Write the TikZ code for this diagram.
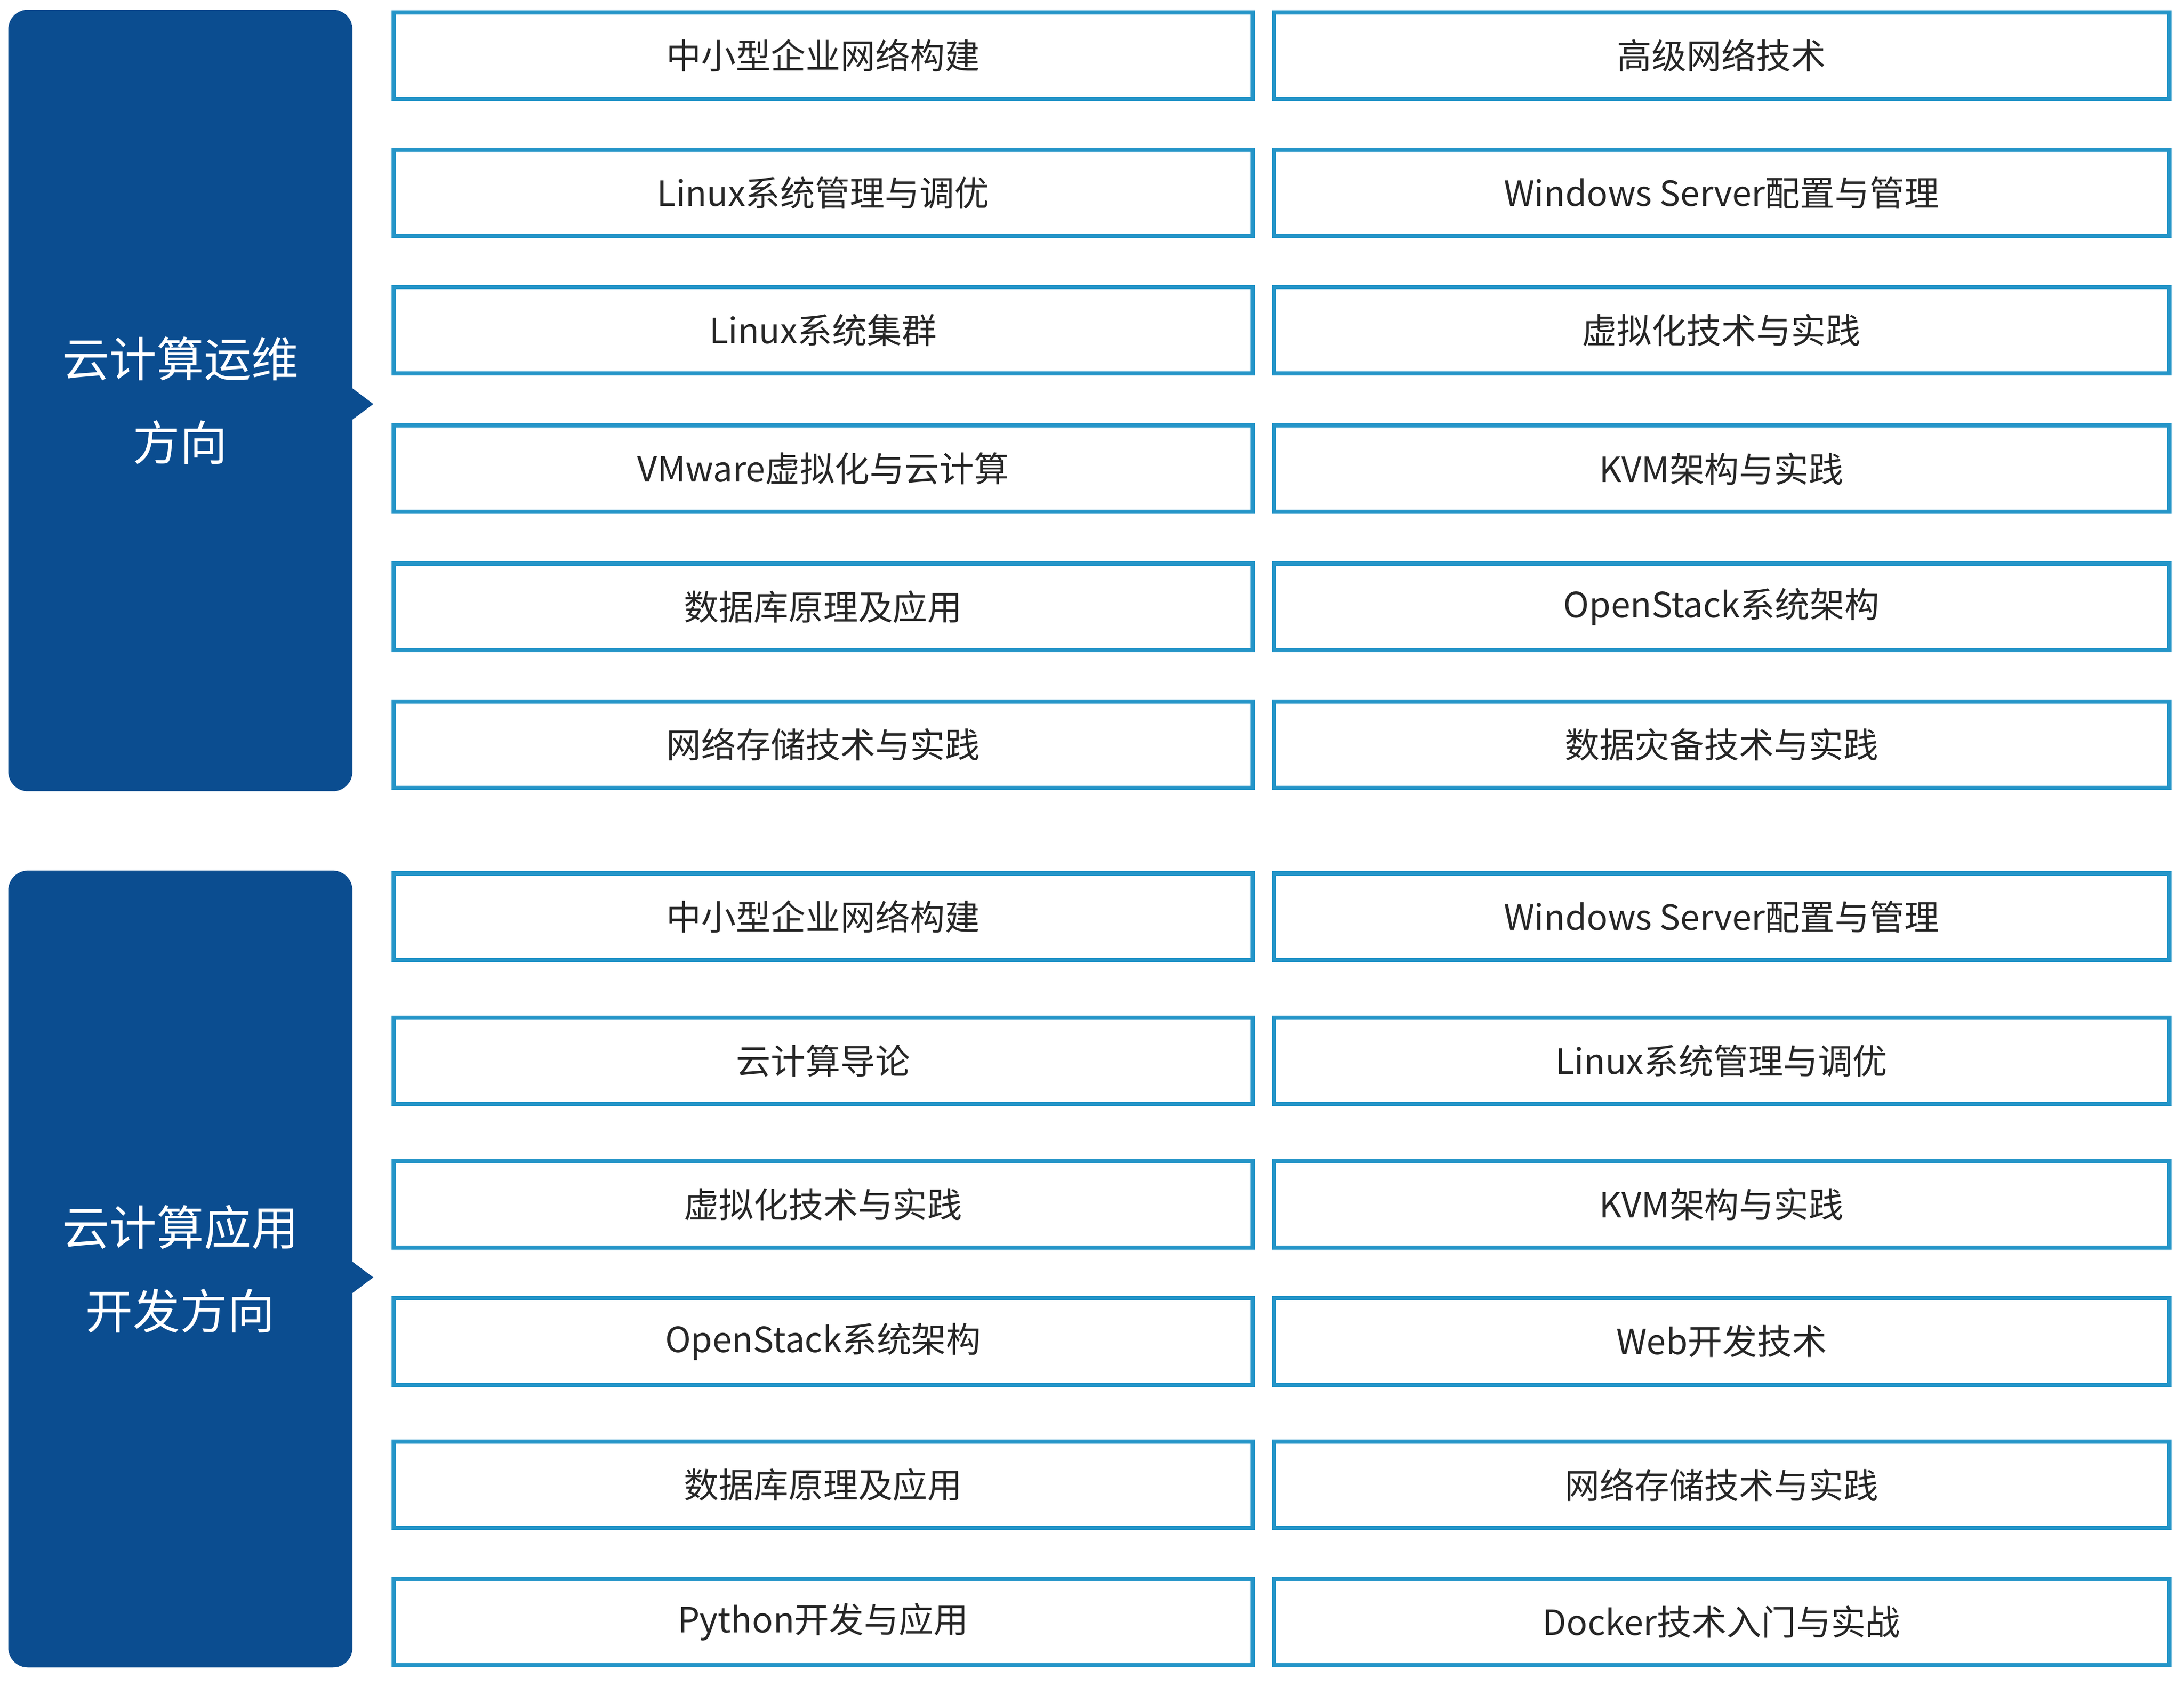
\documentclass[tikz,border=0pt]{standalone}
\usepackage{fontspec}
\setmainfont{Noto Sans CJK SC}
\definecolor{dk}{HTML}{0B4D90}
\definecolor{bd}{HTML}{2595C8}
\begin{document}
\begin{tikzpicture}[x=1pt,y=-1pt,
  crs/.style={draw=bd,line width=3pt,inner sep=0pt,font=\fontsize{25}{30}\selectfont,text=black!85},
  side/.style={fill=dk,rounded corners=14pt,inner sep=0pt,font=\fontsize{34}{60}\selectfont,text=white,align=center}]
\useasboundingbox (0,0) rectangle (1568,1210);
% top
\node[side,minimum width=247pt,minimum height=561pt] (s1) at (129.5,287.5) {云计算运维\\方向};
\fill[dk] (252,278) -- (268,290) -- (252,302) -- cycle;
\node[side,minimum width=247pt,minimum height=572pt] (s2) at (129.5,911) {云计算应用\\开发方向};
\fill[dk] (252,905) -- (268,917) -- (252,929) -- cycle;
\newcommand\cbox[6]{\node[crs,minimum width=#3pt,minimum height=62pt] (#1) at (#2,#4) {#5};\node[crs,minimum width=643pt,minimum height=62pt] (#1r) at (1236,#4) {#6};}
\cbox{a1}{591}{617}{40}{中小型企业网络构建}{高级网络技术}
\cbox{a2}{591}{617}{138.5}{Linux系统管理与调优}{Windows Server配置与管理}
\cbox{a3}{591}{617}{237}{Linux系统集群}{虚拟化技术与实践}
\cbox{a4}{591}{617}{336.5}{VMware虚拟化与云计算}{KVM架构与实践}
\cbox{a5}{591}{617}{435.5}{数据库原理及应用}{OpenStack系统架构}
\cbox{a6}{591}{617}{534.5}{网络存储技术与实践}{数据灾备技术与实践}
\cbox{b1}{591}{617}{658}{中小型企业网络构建}{Windows Server配置与管理}
\cbox{b2}{591}{617}{761.5}{云计算导论}{Linux系统管理与调优}
\cbox{b3}{591}{617}{864.5}{虚拟化技术与实践}{KVM架构与实践}
\cbox{b4}{591}{617}{963}{OpenStack系统架构}{Web开发技术}
\cbox{b5}{591}{617}{1066}{数据库原理及应用}{网络存储技术与实践}
\cbox{b6}{591}{617}{1164.5}{Python开发与应用}{Docker技术入门与实战}
\end{tikzpicture}
\end{document}
